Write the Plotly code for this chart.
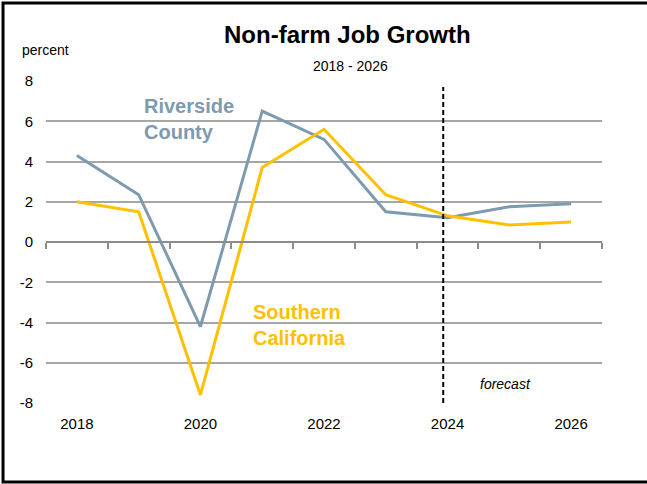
import plotly.graph_objects as go

years = [2018, 2019, 2020, 2021, 2022, 2023, 2024, 2025, 2026]
riverside = [4.3, 2.35, -4.2, 6.5, 5.1, 1.5, 1.2, 1.75, 1.9]
socal = [2.0, 1.5, -7.6, 3.7, 5.6, 2.35, 1.3, 0.85, 1.0]
y_ticks = [-8, -6, -4, -2, 0, 2, 4, 6, 8]
x_labels = [2018, 2020, 2022, 2024, 2026]
tick_bounds = [2017.5 + i for i in range(10)]
forecast_x = 2023.93

BLUE = "#7E9AAE"
GOLD = "#FFC000"
FONT = "Liberation Sans, Arial, sans-serif"

fig = go.Figure()
fig.add_trace(go.Scatter(x=years, y=riverside, mode="lines",
                         line=dict(color=BLUE, width=3), hoverinfo="skip"))
fig.add_trace(go.Scatter(x=years, y=socal, mode="lines",
                         line=dict(color=GOLD, width=3), hoverinfo="skip"))
fig.add_trace(go.Scatter(x=[years[0]], y=[0], xaxis="x2", mode="markers",
                         marker=dict(opacity=0), hoverinfo="skip"))

fig.update_layout(
    width=647, height=484,
    margin=dict(l=46, r=45, t=81, b=81),
    paper_bgcolor="white", plot_bgcolor="white",
    showlegend=False,
    font=dict(family=FONT, color="black"),
    xaxis=dict(range=[2017.5, 2026.5], tickvals=x_labels, ticks="",
               showgrid=False, zeroline=False, showline=False, automargin=False,
               tickfont=dict(size=15), ticklabelstandoff=10),
    xaxis2=dict(range=[2017.5, 2026.5], overlaying="x", anchor="free", position=0.5,
                tickvals=tick_bounds, ticks="outside", ticklen=6, tickwidth=1.5,
                tickcolor="#8C8C8C", showticklabels=False, showgrid=False,
                zeroline=False, showline=True, linecolor="#8C8C8C", linewidth=1.5,
                automargin=False),
    yaxis=dict(range=[-8, 8], tickvals=y_ticks, ticktext=[str(v) for v in y_ticks],
               showgrid=True, gridcolor="#A6A6A6",
               gridwidth=1.5, zeroline=False, showline=False, ticks="",
               automargin=False, tickfont=dict(size=15), ticklabelstandoff=12),
)

fig.add_shape(type="line", xref="x", yref="y", x0=forecast_x, x1=forecast_x,
              y0=-8, y1=7.7, line=dict(color="black", width=2, dash="5px,3px"))
fig.add_shape(type="rect", xref="paper", yref="paper",
              x0=-0.0773, x1=1.2, y0=-0.245, y1=1.242,
              line=dict(color="black", width=3), layer="above")

fig.add_annotation(text="<b>Non-farm Job Growth</b>", xref="paper", yref="paper",
                   x=0.542, y=1.143, xanchor="center", yanchor="middle",
                   showarrow=False, font=dict(size=24))
fig.add_annotation(text="2018 - 2026", xref="paper", yref="paper",
                   x=0.547, y=1.047, xanchor="center", yanchor="middle",
                   showarrow=False, font=dict(size=14))
fig.add_annotation(text="percent", xref="paper", yref="paper",
                   x=-0.047, y=1.096, xanchor="left", yanchor="middle",
                   showarrow=False, font=dict(size=14))
fig.add_annotation(text="<b>Riverside<br>County</b>", xref="paper", yref="paper",
                   x=0.173, y=0.882, xanchor="left", yanchor="middle", align="left",
                   showarrow=False, font=dict(size=20, color=BLUE))
fig.add_annotation(text="<b>Southern<br>California</b>", xref="paper", yref="paper",
                   x=0.368, y=0.242, xanchor="left", yanchor="middle", align="left",
                   showarrow=False, font=dict(size=20, color=GOLD))
fig.add_annotation(text="<i>forecast</i>", xref="paper", yref="paper",
                   x=0.827, y=0.059, xanchor="center", yanchor="middle",
                   showarrow=False, font=dict(size=14))

fig.write_html("out.html", config={"displayModeBar": False},
               post_script="document.body.style.margin='0';")
